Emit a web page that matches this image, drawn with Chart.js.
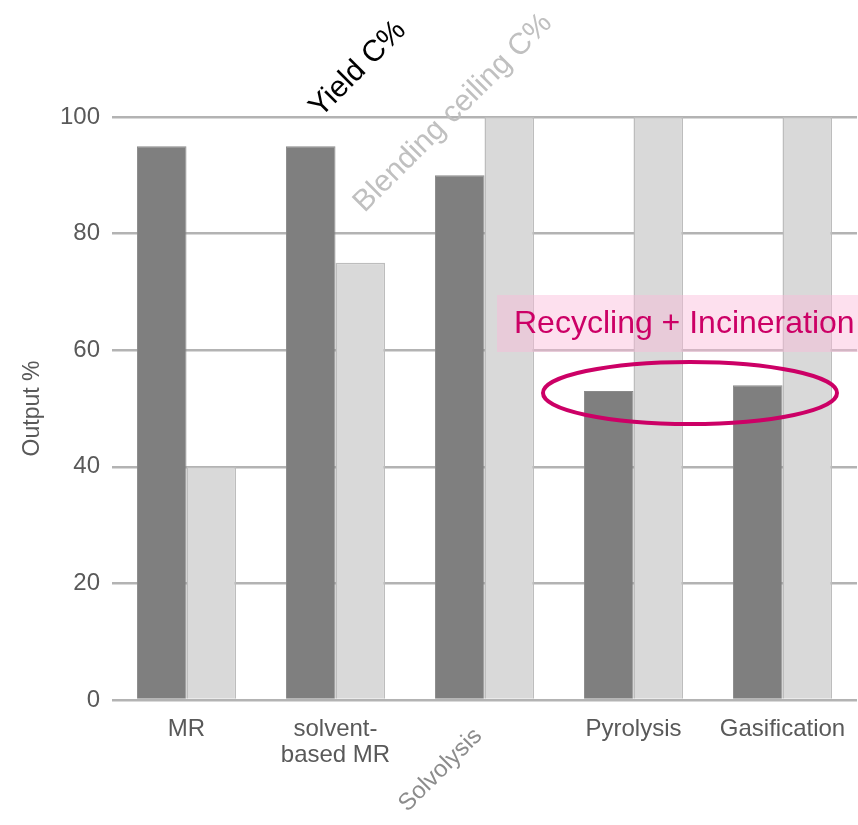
<!DOCTYPE html>
<html lang="en">
<head>
    <meta charset="UTF-8">
    <title>Output % by process</title>
    <script src="https://cdn.jsdelivr.net/npm/chart.js"></script>
    <style>
        body {
            margin: 0;
            background: #ffffff;
        }
        .chart-box {
            width: 858px;
            height: 825px;
            position: relative;
        }
    </style>
</head>
<body>
    <div class="chart-box">
        <canvas id="barChart"></canvas>
    </div>

    <script>
        const categories = ['MR', ['solvent-', 'based MR'], 'Solvolysis', 'Pyrolysis', 'Gasification'];
        const yieldValues = [95, 95, 90, 53, 54];
        const ceilingValues = [40, 75, 100, 100, 100];
        const yTicks = [0, 20, 40, 60, 80, 100];

        const FONT = '"Liberation Sans", Arial, sans-serif';
        const hiddenLabel = 2; // this category label is written diagonally instead

        // overlays: rotated series names, the pink note and the ellipse
        const overlays = {
            id: 'overlays',
            afterDraw(chart) {
                const c = chart.ctx;
                const xs = chart.scales.x;

                function rotated(text, x, y, size, color) {
                    c.save();
                    c.translate(x, y);
                    c.rotate(-Math.PI / 4);
                    c.font = size + 'px ' + FONT;
                    c.fillStyle = color;
                    c.textAlign = 'center';
                    c.textBaseline = 'middle';
                    c.fillText(text, 0, 0);
                    c.restore();
                }

                rotated('Yield C%', 358, 69, 30, '#000000');
                rotated('Blending ceiling C%', 453, 113, 30, '#c0c0c0');

                // diagonal label under the third group
                rotated(categories[hiddenLabel], xs.getPixelForValue(hiddenLabel) - 44, 770, 24, '#8c8c8c');

                // pink note box
                c.save();
                c.fillStyle = 'rgba(250, 186, 217, 0.45)';
                c.fillRect(497, 295, 361, 57);
                c.font = '32px ' + FONT;
                c.fillStyle = '#cc0066';
                c.textBaseline = 'middle';
                c.fillText('Recycling + Incineration', 514, 324);
                c.restore();

                // ellipse round the pyrolysis / gasification yields
                c.save();
                c.strokeStyle = '#cc0066';
                c.lineWidth = 4;
                c.beginPath();
                c.ellipse(690, 393, 147, 31, 0, 0, Math.PI * 2);
                c.stroke();
                c.restore();
            }
        };

        const ctx = document.getElementById('barChart').getContext('2d');
        new Chart(ctx, {
            type: 'bar',
            data: {
                labels: categories,
                datasets: [{
                    label: 'Yield C%',
                    data: yieldValues,
                    backgroundColor: '#7f7f7f',
                    borderColor: '#8a8a8a',
                    borderWidth: 1
                }, {
                    label: 'Blending ceiling C%',
                    data: ceilingValues,
                    backgroundColor: '#d9d9d9',
                    borderColor: '#bdbdbd',
                    borderWidth: 1.5
                }]
            },
            options: {
                responsive: true,
                maintainAspectRatio: false,
                animation: false,
                layout: {
                    padding: { top: 117, right: 1, bottom: 0, left: 0 }
                },
                datasets: {
                    bar: {
                        categoryPercentage: 0.665,
                        barPercentage: 1
                    }
                },
                plugins: {
                    legend: { display: false },
                    tooltip: { enabled: false }
                },
                scales: {
                    x: {
                        grid: { display: false, drawTicks: false },
                        border: { display: false },
                        ticks: {
                            color: '#595959',
                            font: { family: FONT, size: 24, lineHeight: 1.08 },
                            padding: 16,
                            maxRotation: 0,
                            autoSkip: false,
                            callback: function (value, index) {
                                return index === hiddenLabel ? '' : categories[index];
                            }
                        },
                        afterFit: function (scale) {
                            scale.height = 125;
                            // let the last label run off the edge, as in the original
                            scale.paddingLeft = 0;
                            scale.paddingRight = 0;
                        }
                    },
                    y: {
                        min: 0,
                        max: 100,
                        afterBuildTicks: function (scale) {
                            scale.ticks = yTicks.map(v => ({ value: v }));
                        },
                        grid: {
                            color: '#b3b3b3',
                            lineWidth: 2.5,
                            drawTicks: false
                        },
                        border: { display: false },
                        ticks: {
                            color: '#595959',
                            font: { family: FONT, size: 24 },
                            padding: 12
                        },
                        title: {
                            display: true,
                            text: 'Output %',
                            color: '#595959',
                            font: { family: FONT, size: 23 },
                            padding: { top: 19, bottom: 0 }
                        },
                        afterFit: function (scale) { scale.width = 112; }
                    }
                }
            },
            plugins: [overlays]
        });
    </script>
</body>
</html>
